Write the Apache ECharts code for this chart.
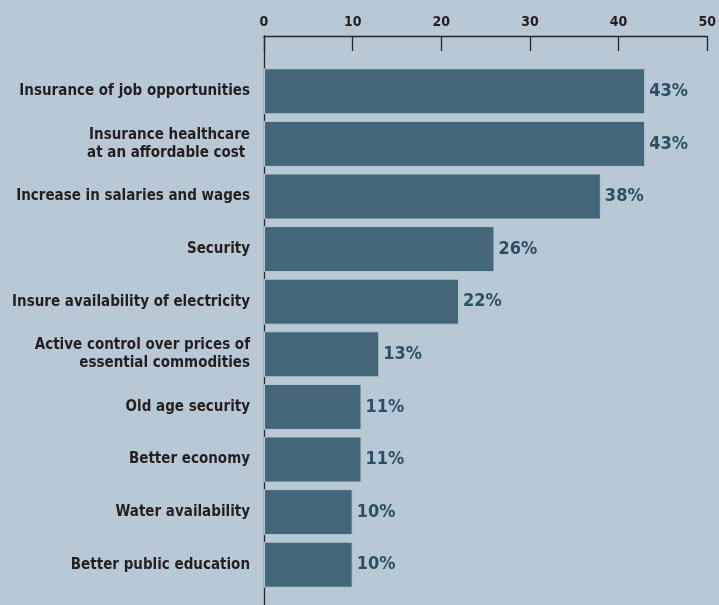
<!DOCTYPE html>
<html>
<head>
<meta charset="utf-8">
<script src="https://cdn.jsdelivr.net/npm/echarts@6/dist/echarts.min.js"></script>
<style>
  html, body { margin: 0; padding: 0; background: #b8c9d5; }
  #chart { width: 719px; height: 605px; }
</style>
</head>
<body>
<div id="chart"></div>
<script>
// Survey priorities, share of respondents (%)
const categories = [
  'Insurance of job opportunities',
  'Insurance healthcare\nat an affordable cost ',
  'Increase in salaries and wages',
  'Security',
  'Insure availability of electricity',
  'Active control over prices of\nessential commodities',
  'Old age security',
  'Better economy',
  'Water availability',
  'Better public education'
];
const values = [43, 43, 38, 26, 22, 13, 11, 11, 10, 10];
const xTicks = [0, 10, 20, 30, 40, 50];

const FONT = '"DejaVu Sans Condensed", "Liberation Sans Narrow", sans-serif';
const chart = echarts.init(document.getElementById('chart'));

chart.setOption({
  backgroundColor: '#b8c9d5',
  animation: false,
  grid: [
    { left: 264, right: 9, top: 65, bottom: 14 },
    { left: 264, right: 9, top: 36, bottom: 0 }
  ],
  xAxis: [
    {
      gridIndex: 0,
      type: 'value',
      position: 'top',
      offset: 29,
      min: xTicks[0],
      max: xTicks[xTicks.length - 1],
      interval: 10,
      splitLine: { show: false },
      axisLine: { show: true, lineStyle: { color: '#262626', width: 1.3 } },
      axisTick: { show: true, inside: true, length: 15, lineStyle: { color: '#262626', width: 1.3 } },
      axisLabel: { color: '#231f20', fontFamily: FONT, fontWeight: 'bold', fontSize: 14, margin: 7 }
    },
    {
      gridIndex: 1,
      type: 'value',
      show: false,
      min: 0,
      max: 50
    }
  ],
  yAxis: [
    {
      gridIndex: 0,
      type: 'category',
      inverse: true,
      data: categories,
      axisLine: { show: false },
      axisTick: { show: false },
      axisLabel: {
        color: '#231f20', fontFamily: FONT, fontWeight: 'bold', fontSize: 15,
        margin: 14, align: 'right', lineHeight: 18
      }
    },
    {
      gridIndex: 1,
      type: 'value',
      min: 0,
      max: 1,
      splitLine: { show: false },
      axisLabel: { show: false },
      axisTick: { show: false },
      axisLine: { show: true, lineStyle: { color: '#262626', width: 1.3 } }
    }
  ],
  series: [
    {
      type: 'bar',
      xAxisIndex: 0,
      yAxisIndex: 0,
      data: values,
      barWidth: 46,
      z: 5,
      itemStyle: { color: '#436679', borderColor: '#b3c7d3', borderWidth: 1 },
      label: {
        show: true,
        position: 'right',
        distance: 4,
        formatter: '{c}%',
        color: '#2b5064',
        fontFamily: FONT,
        fontWeight: 'bold',
        fontSize: 18
      }
    }
  ]
});
</script>
</body>
</html>
